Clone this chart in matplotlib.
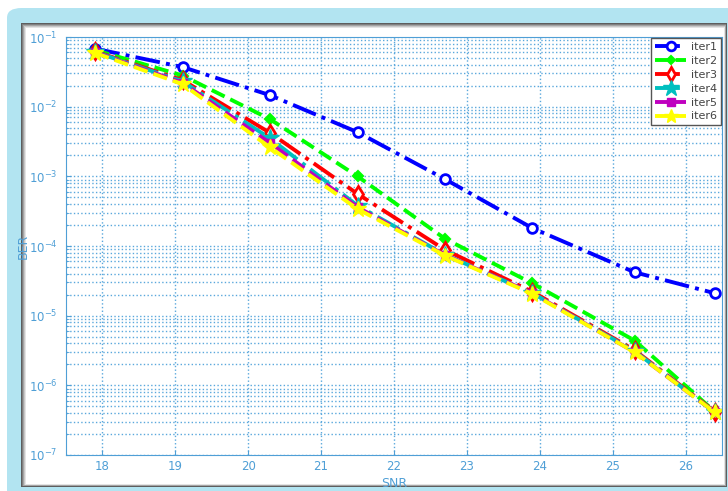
import matplotlib
matplotlib.use("Agg")
import matplotlib.pyplot as plt
from matplotlib.patches import FancyBboxPatch, Rectangle
from matplotlib.ticker import NullFormatter, FixedLocator

snr = [17.9, 19.1, 20.3, 21.5, 22.7, 23.9, 25.3, 26.4]
iter1 = [0.068, 0.037, 0.0146, 0.0043, 9.1e-4, 1.8e-4, 4.2e-5, 2.1e-5]
iter2 = [0.065, 0.028, 6.6e-3, 1.0e-3, 1.27e-4, 2.9e-5, 4.4e-6, 4.2e-7]
iter3 = [0.062, 0.024, 4.2e-3, 5.6e-4, 8.8e-5, 2.2e-5, 3.2e-6, 4.2e-7]
iter4 = [0.061, 0.023, 3.5e-3, 3.8e-4, 7.5e-5, 2.1e-5, 3.1e-6, 4.1e-7]
iter5 = [0.060, 0.022, 3.0e-3, 3.6e-4, 7.4e-5, 2.1e-5, 3.0e-6, 4.1e-7]
iter6 = [0.059, 0.021, 2.6e-3, 3.4e-4, 7.3e-5, 2.05e-5, 3.0e-6, 4.1e-7]
labels = ["iter1", "iter2", "iter3", "iter4", "iter5", "iter6"]
xticks = [18, 19, 20, 21, 22, 23, 24, 25, 26]
ydecades = [-7, -6, -5, -4, -3, -2, -1]

W, H = 728, 491
fig = plt.figure(figsize=(W / 100, H / 100), dpi=100)
fig.patch.set_facecolor("white")

def fx(px):
    return px / W

def fy(py):
    return 1 - py / H

# outer light-blue frame
fig.patches.append(FancyBboxPatch((fx(7), fy(520)), fx(760) - fx(7), fy(8) - fy(520),
                                  boxstyle="round,pad=0,rounding_size=0.02",
                                  transform=fig.transFigure, facecolor="#b2e4f1",
                                  edgecolor="none", zorder=-5))
# inner shadowed panel
shades = ["#5e5e5e", "#808080", "#a4a4a4", "#c8c8c8", "#e4e4e4", "#ffffff"]
for i, c in enumerate(shades):
    x0, y0, x1, y1 = 21 + i, 23 + i, 727 - i * 0.6, 487 - i * 0.6
    fig.patches.append(Rectangle((fx(x0), fy(y1)), fx(x1) - fx(x0), fy(y0) - fy(y1),
                                 transform=fig.transFigure, facecolor=c,
                                 edgecolor="none", zorder=-4 + i * 0.1))

axc = "#4f9fd6"
ax = fig.add_axes([fx(66), fy(455), fx(722) - fx(66), fy(37) - fy(455)])
ax.set_zorder(5)
ax.set_facecolor("white")

styles = [
    dict(color="#0000ff", ls="-.", marker="o", mfc="white", ms=7, mew=2),
    dict(color="#00ff00", ls="--", marker="D", mfc="#00ff00", ms=5, mew=1.5),
    dict(color="#ff0000", ls="-.", marker="d", mfc="white", ms=8, mew=2),
    dict(color="#00bfbf", ls="-.", marker="*", mfc="#00bfbf", ms=13, mew=1),
    dict(color="#bf00bf", ls="--", marker="s", mfc="#bf00bf", ms=6, mew=1),
    dict(color="#ffff00", ls="--", marker="*", mfc="#ffff00", ms=12, mew=1),
]
series = [iter1, iter2, iter3, iter4, iter5, iter6]
for ys, lab, st in zip(series, labels, styles):
    ax.semilogy(snr, ys, label=lab, lw=2.8, **st)

ax.set_xlim(17.5, 26.5)
ax.set_ylim(1e-7, 1e-1)
ax.set_xticks(xticks)
ax.yaxis.set_major_locator(FixedLocator([10.0 ** e for e in ydecades]))
ax.yaxis.set_minor_locator(FixedLocator([k * 10.0 ** e for e in ydecades[:-1] for k in range(2, 10)]))
ax.yaxis.set_minor_formatter(NullFormatter())
ax.grid(True, which="major", ls=":", color="#5aa8dc", lw=1)
ax.grid(True, which="minor", axis="y", ls=":", color="#5aa8dc", lw=1)
ax.tick_params(which="both", direction="in", colors=axc, labelsize=8.5)
ax.tick_params(which="minor", axis="x", bottom=False)
ax.tick_params(axis="y", pad=6)
for sp in ax.spines.values():
    sp.set_color(axc)
ax.set_xlabel("SNR", color=axc, fontsize=9)
ax.set_ylabel("BER", color=axc, fontsize=9)
ax.xaxis.set_label_coords(0.5, -0.052)
ax.yaxis.set_label_coords(-0.056, 0.5)

leg = ax.legend(loc="upper right", borderaxespad=0.1, fontsize=8, fancybox=False,
                handlelength=2.8, labelspacing=0.35, borderpad=0.35, handletextpad=0.4,
                markerscale=0.9)
leg.get_frame().set_edgecolor("#555555")
leg.get_frame().set_linewidth(1.0)
leg.get_frame().set_alpha(1)
for t in leg.get_texts():
    t.set_color("#444444")

fig.savefig("out.png", dpi=100)
